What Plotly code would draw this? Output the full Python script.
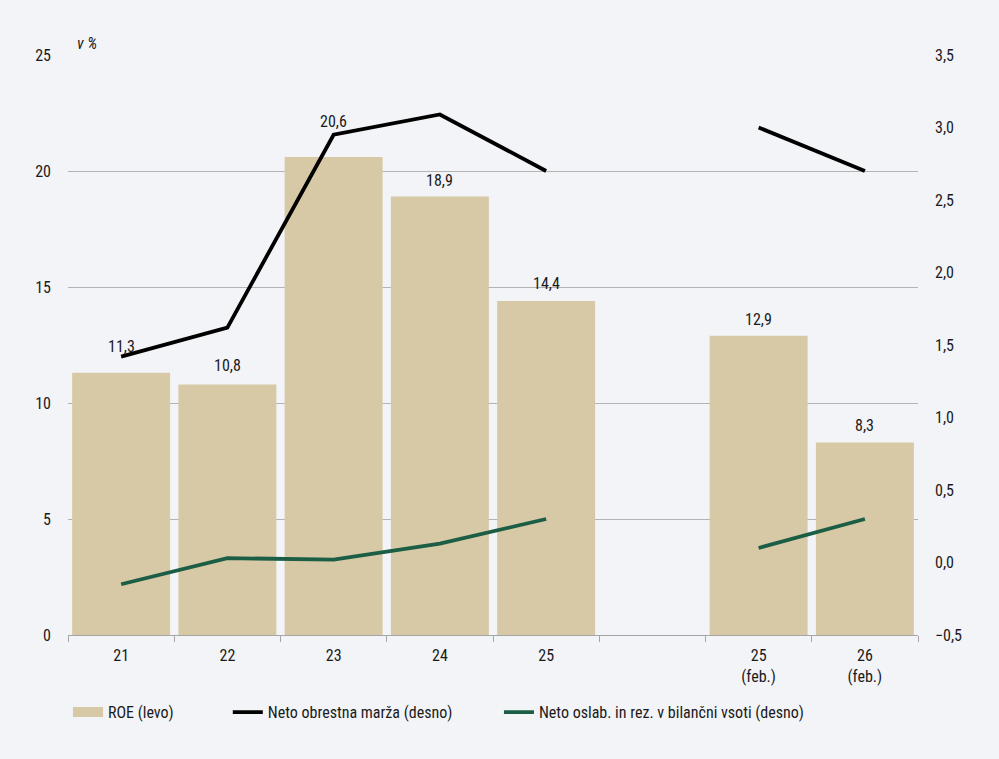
import plotly.graph_objects as go

categories = ["21", "22", "23", "24", "25", " ", "25<br>(feb.)", "26<br>(feb.)"]
roe = [11.3, 10.8, 20.6, 18.9, 14.4, None, 12.9, 8.3]
nim = [1.42, 1.62, 2.95, 3.09, 2.70, None, 3.00, 2.70]
impair = [-0.15, 0.03, 0.02, 0.13, 0.30, None, 0.10, 0.30]
roe_labels = ["11,3", "10,8", "20,6", "18,9", "14,4", "", "12,9", "8,3"]

FONT = "Liberation Sans Narrow, Arial Narrow, Roboto Condensed, Liberation Sans, Arial"
FS = 16
TXT = "#1a1a1a"
BG = "#f3f4f8"
TAN = "#d8c9a6"
GREEN = "#1b5e45"
# pixel lift of each data label above its bar (labels dodge the line)
label_lift = [15, 7, 24, 5, 6, 0, 5, 5]

fig = go.Figure()
fig.add_trace(go.Bar(
    x=categories, y=roe, name="ROE (levo)",
    marker=dict(color=TAN, line=dict(width=0)),
    showlegend=False,
))
# legend swatch for ROE (wide rectangle look)
fig.add_trace(go.Scatter(
    x=[categories[0]], y=[None], name="ROE (levo)", mode="lines",
    line=dict(color=TAN, width=13), legend="legend",
))
fig.add_trace(go.Scatter(
    x=categories, y=nim, name="Neto obrestna marža (desno)", yaxis="y2",
    mode="lines", line=dict(color="#000000", width=3.8), connectgaps=False,
    legend="legend2",
))
fig.add_trace(go.Scatter(
    x=categories, y=impair, name="Neto oslab. in rez. v bilančni vsoti (desno)", yaxis="y2",
    mode="lines", line=dict(color=GREEN, width=3.8), connectgaps=False,
    legend="legend3",
))

annotations = [dict(
    text="<i>v %</i>", xref="paper", yref="paper", x=0.008, y=1.0,
    xanchor="left", yanchor="bottom", showarrow=False,
    font=dict(family=FONT, size=FS, color=TXT),
)]
for i, (v, lab) in enumerate(zip(roe, roe_labels)):
    if v is None:
        continue
    annotations.append(dict(
        x=i, y=v, xref="x", yref="y", text=lab, showarrow=False,
        yanchor="bottom", yshift=label_lift[i],
        font=dict(family=FONT, size=FS, color=TXT),
    ))

legend_common = dict(
    orientation="h", yanchor="middle", y=-0.133, xanchor="left",
    bgcolor="rgba(0,0,0,0)", font=dict(family=FONT, size=FS, color=TXT),
    itemwidth=30, tracegroupgap=0,
)

fig.update_layout(
    width=999, height=759,
    paper_bgcolor=BG, plot_bgcolor=BG,
    margin=dict(l=68, r=81, t=55, b=124, autoexpand=False),
    font=dict(family=FONT, size=FS, color=TXT),
    separators=",.",
    bargap=0.078,
    showlegend=True,
    legend=dict(x=0.0, **legend_common),
    legend2=dict(x=0.188, **legend_common),
    legend3=dict(x=0.507, **legend_common),
    xaxis=dict(
        type="category", categoryorder="array", categoryarray=categories,
        range=[-0.5, len(categories) - 0.5],
        tickson="boundaries", ticks="outside", ticklen=6, tickangle=0,
        tickcolor="#a6a6a6", showline=True, linecolor="#a6a6a6", linewidth=1,
        showgrid=False, ticklabelstandoff=6,
        tickfont=dict(family=FONT, size=FS, color=TXT),
    ),
    yaxis=dict(
        range=[0, 25], dtick=5, showgrid=True, gridcolor="#b3b3b3", gridwidth=1,
        zeroline=False, ticks="", ticklabelstandoff=16,
        tickfont=dict(family=FONT, size=FS, color=TXT),
    ),
    yaxis2=dict(
        range=[-0.5, 3.5], dtick=0.5, overlaying="y", side="right",
        showgrid=False, zeroline=False, tickformat=".1f", ticks="",
        ticklabelstandoff=16,
        tickfont=dict(family=FONT, size=FS, color=TXT),
    ),
    annotations=annotations,
)

fig.write_html(
    "out.html",
    config={"displayModeBar": False},
    post_script="document.body.style.margin='0';document.body.style.background='%s';" % BG,
)
